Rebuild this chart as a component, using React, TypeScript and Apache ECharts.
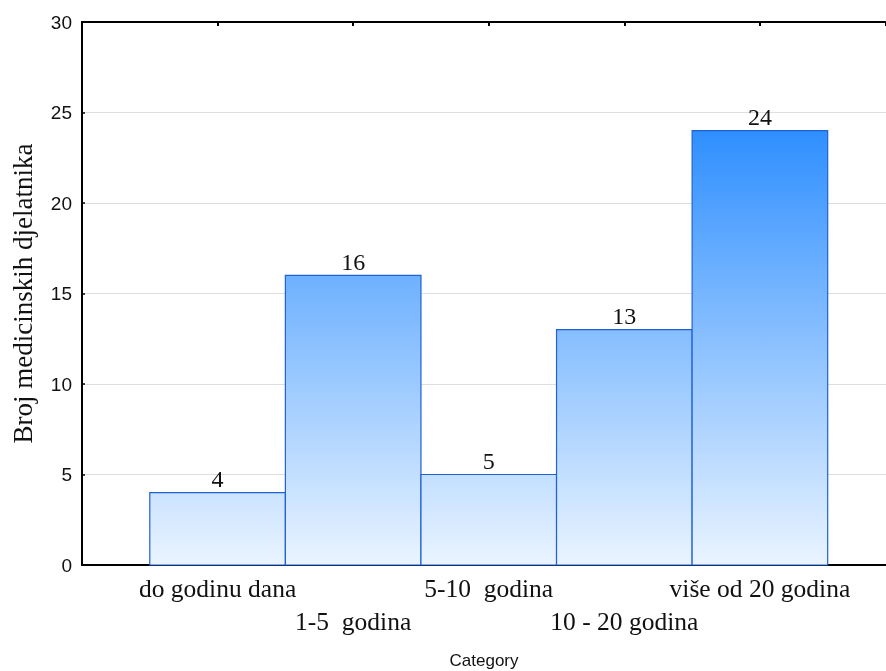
import React, { useEffect, useRef } from "react";
import * as echarts from "echarts";

const categories = ["do godinu dana", "1-5  godina", "5-10  godina", "10 - 20 godina", "više od 20 godina"];
const values = [4, 16, 5, 13, 24];
const yTicks = [0, 5, 10, 15, 20, 25, 30];
const yTitle = "Broj medicinskih djelatnika";
const xTitle = "Category";

export default function App() {
  const ref = useRef<HTMLDivElement>(null);
  useEffect(() => {
    if (!ref.current) return;
    const chart = echarts.init(ref.current, undefined, { renderer: "svg" });
    const data = values.map((v, i) => [i, v]);
    chart.setOption({
      animation: false,
      grid: { left: 82, top: 22, right: 0, bottom: 106, containLabel: false, outerBoundsMode: "none" },
      xAxis: [
        {
          type: "value",
          position: "bottom",
          min: -1,
          max: 4.93,
          interval: 1,
          splitLine: { show: false },
          axisLine: { show: true, onZero: false, lineStyle: { color: "#000", width: 2 } },
          axisTick: { show: true, inside: true, length: 4, lineStyle: { color: "#000", width: 2 } },
          axisLabel: {
            show: true,
            margin: 7,
            fontFamily: "Liberation Serif",
            fontSize: 25.5,
            color: "#111",
            lineHeight: 33,
            showMinLabel: false,
            showMaxLabel: false,
            formatter: (v: number) => {
              const i = Math.round(v);
              if (i < 0 || i >= categories.length) return "";
              return i % 2 === 1 ? "\n" + categories[i] : categories[i];
            },
          },
          name: xTitle,
          nameLocation: "middle",
          nameGap: 87,
          nameTextStyle: { fontFamily: "Liberation Sans", fontSize: 17, color: "#111", verticalAlign: "top" },
        },
        {
          type: "value",
          position: "top",
          min: -1,
          max: 4.93,
          interval: 1,
          splitLine: { show: false },
          axisLine: { show: true, onZero: false, lineStyle: { color: "#000", width: 2 } },
          axisTick: { show: true, inside: true, length: 4, lineStyle: { color: "#000", width: 2 } },
          axisLabel: { show: false },
        },
      ],
      yAxis: {
        type: "value",
        min: yTicks[0],
        max: yTicks[yTicks.length - 1],
        interval: 5,
        axisLine: { show: true, onZero: false, lineStyle: { color: "#000", width: 2 } },
        axisTick: { show: true, inside: true, length: 3, lineStyle: { color: "#000", width: 1.5 } },
        axisLabel: { margin: 10, fontFamily: "Liberation Sans", fontSize: 19, color: "#111" },
        splitLine: { show: true, lineStyle: { color: "#dedede", width: 1 } },
        name: yTitle,
        nameLocation: "middle",
        nameGap: 46,
        nameTextStyle: { fontFamily: "Liberation Serif", fontSize: 27, color: "#111" },
      },
      series: [
        {
          type: "custom",
          xAxisIndex: 0,
          yAxisIndex: 0,
          data,
          encode: { x: 0, y: 1 },
          renderItem: (params: any, api: any) => {
            const x = api.value(0);
            const v = api.value(1);
            const tl = api.coord([x - 0.5, v]);
            const br = api.coord([x + 0.5, 0]);
            const gTop = api.coord([0, 24]);
            const gBot = api.coord([0, 0]);
            return {
              type: "rect",
              shape: { x: tl[0], y: tl[1], width: br[0] - tl[0], height: br[1] - tl[1] },
              style: {
                fill: new echarts.graphic.LinearGradient(
                  0, gTop[1], 0, gBot[1],
                  [
                    { offset: 0, color: "#2f8fff" },
                    { offset: 1, color: "#eaf4ff" },
                  ],
                  true
                ),
                stroke: "#1f62d6",
                lineWidth: 1.2,
              },
              textContent: {
                style: {
                  text: String(v),
                  fontFamily: "Liberation Serif",
                  fontSize: 24,
                  fill: "#111",
                },
              },
              textConfig: { position: "top", distance: 1 },
            };
          },
        },
      ],
    });
    return () => chart.dispose();
  }, []);
  return <div ref={ref} style={{ position: "fixed", left: 0, top: 0, width: 886, height: 671 }} />;
}
